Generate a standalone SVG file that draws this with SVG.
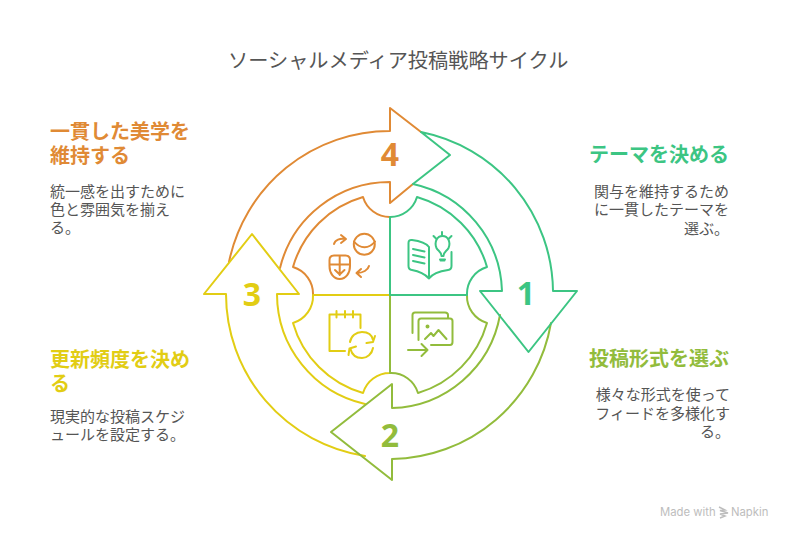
<svg xmlns="http://www.w3.org/2000/svg" width="792" height="540" viewBox="0 0 792 540">
<style>
.s{fill:none;stroke-width:2;stroke-linejoin:round;stroke-linecap:round}
.i{fill:none;stroke-width:2;stroke-linejoin:round;stroke-linecap:round}
.g{stroke:#3CC583}.o{stroke:#92BC3C}.y{stroke:#E2CD14}.r{stroke:#E08A35}
text{font-family:"Liberation Sans","Noto Sans CJK JP",sans-serif}
.t{font-size:20.200px;fill:#555}
.h{font-size:20px;font-weight:700}
.b{font-size:15px;fill:#555}
.n{font-family:"Noto Sans","Liberation Sans",sans-serif;font-size:32px;font-weight:700;text-anchor:middle}
.e{text-anchor:end}
.w{font-family:"Inter","Noto Sans",sans-serif;font-size:11.300px;fill:#bdbdbd}
</style>
<rect width="792" height="540" fill="#fff"/>
<text class="t" x="228" y="68">ソーシャルメディア投稿戦略サイクル</text>

<g id="connectors">
<path class="s r" d="M229 262A164 164 0 0 1 390 131V108L421 132M413 184L390 203V182A113 113 0 0 0 280 268"/>
<path class="s y" d="M365 404A113 113 0 0 1 277 294H299L252 234L204 294H226A164 164 0 0 0 365 456"/>
<path class="s o" d="M551 323A164 164 0 0 1 392 459V480L331 432L392 384V408A113 113 0 0 0 500 315"/>
<path class="s g" d="M421 132A164 164 0 0 1 553 291H577L528.500 352L480 291H502A113 113 0 0 0 413 184L450 155Z"/>
</g>

<g id="node-4">
<path class="s r" d="M390 295V217A28 28 0 0 1 363 197A102 102 0 0 0 293 267A28 28 0 0 1 313 295Z"/>
<text class="n" x="390" y="166" fill="#E08A35">4</text>
<g class="i r">
<path d="M334 244C335 240 340 238 345 239M341 235L346 239L341 243"/>
<circle cx="364.300" cy="244.300" r="10.500"/>
<path d="M354 241.500C360 249 369 249 375 241.500"/>
<path d="M329.500 260Q329.500 255.500 334 255.500H345.500Q350 255.500 350 260V266C350 273 346 279 339.700 279C333.500 279 329.500 273 329.500 266ZM329.500 264.500H350M339.700 255.500V275M335 270L339.700 274.500L344.500 270"/>
<path d="M369 266C368 270 363 273 357 273M361 269L356.500 273L361 277"/>
</g>
</g>

<g id="node-3">
<path class="s y" d="M390 295H313A28 28 0 0 1 293 323A102 102 0 0 0 363 393A28 28 0 0 1 390 373Z"/>
<text class="n" x="252" y="306" fill="#E2CD14">3</text>
<g class="i y">
<path d="M345 351H329.500V314.500H360.500V328M336.500 311V317.500M345 311V317.500M353 311V317.500"/>
<path d="M350 342C351 336 356 332 362 332C368 332 372 335 373 340M366.500 343L373 342L375 336"/>
<path d="M373 348C372 354 367 358 362 358C356 358 352 355 350.500 349M356 346.500L349.500 348.500L348.500 355"/>
</g>
</g>

<g id="node-2">
<path class="s o" d="M390 373A28 28 0 0 1 418 393A102 102 0 0 0 487 323A28 28 0 0 1 467 295H390Z"/>
<text class="n" x="390" y="447" fill="#92BC3C">2</text>
<g class="i o">
<path d="M412.500 333V315Q412.500 312.500 415 312.500H445Q448 312.500 448 315V318"/>
<path d="M418.500 340V321Q418.500 318.500 421 318.500H450Q452.500 318.500 452.500 321V342Q452.500 345 450 345H431"/>
<path d="M425 339L431 333L433.500 336L438.500 330L446.500 339"/>
<circle cx="427.500" cy="326.500" r="1"/>
<path d="M408 350H427.500M421.500 344L427.500 350L421.500 356"/>
</g>
</g>

<g id="node-1">
<path class="s g" d="M390 295V217A28 28 0 0 0 417 197A102 102 0 0 1 487 267A28 28 0 0 0 467 295Z"/>
<text class="n" x="526" y="305" fill="#3CC583">1</text>
<g class="i g">
<path d="M429 278.500C424 273 418 271 412 270Q408.500 269.500 408.500 266V243Q408.500 239.500 412 240C420 241 426 243 429 247ZM429 247V278.500C433 273 441 271 448 270Q451.500 269.500 451.500 266V252"/>
<path d="M413 249L424.500 251.500M413 255L424.500 257.500M413 261L424.500 263.500"/>
<path d="M441.500 256C441.500 252 438 251 436.500 248C434 242 437 236 442.500 236C448 236 451 242 448.500 248C447 251 443.500 252 443.500 256H441.500ZM440 259.500H445M440.500 260.500H444.500"/>
<path d="M442 232V235M433.500 236L436 238.500M451.500 236L449 238.500"/>
</g>
</g>

<g id="label-1">
<text class="h e" x="729" y="162" fill="#3CC583">テーマを決める</text>
<text class="b e"><tspan x="729" y="197">関与を維持するため</tspan><tspan x="729" y="215">に一貫したテーマを</tspan><tspan x="729" y="234">選ぶ。</tspan></text>
</g>
<g id="label-2">
<text class="h e" x="729" y="366" fill="#92BC3C">投稿形式を選ぶ</text>
<text class="b e"><tspan x="730" y="400">様々な形式を使って</tspan><tspan x="730" y="419">フィードを多様化す</tspan><tspan x="730" y="437">る。</tspan></text>
</g>
<g id="label-3">
<text class="h" fill="#E2CD14"><tspan x="50" y="367">更新頻度を決め</tspan><tspan x="50" y="391">る</tspan></text>
<text class="b"><tspan x="50" y="422">現実的な投稿スケジ</tspan><tspan x="50" y="440">ュールを設定する。</tspan></text>
</g>
<g id="label-4">
<text class="h" fill="#E08A35"><tspan x="50" y="139">一貫した美学を</tspan><tspan x="50" y="163">維持する</tspan></text>
<text class="b"><tspan x="50" y="197">統一感を出すために</tspan><tspan x="50" y="215">色と雰囲気を揃え</tspan><tspan x="50" y="233">る。</tspan></text>
</g>

<g id="watermark">
<text class="w" x="660" y="516">Made with</text>
<path d="M719 507L725 510L720 510.500L728 513L720 514L725 516L720 518" fill="none" stroke="#bdbdbd" stroke-width="1.500"/>
<text class="w" x="731" y="516">Napkin</text>
</g>
</svg>
